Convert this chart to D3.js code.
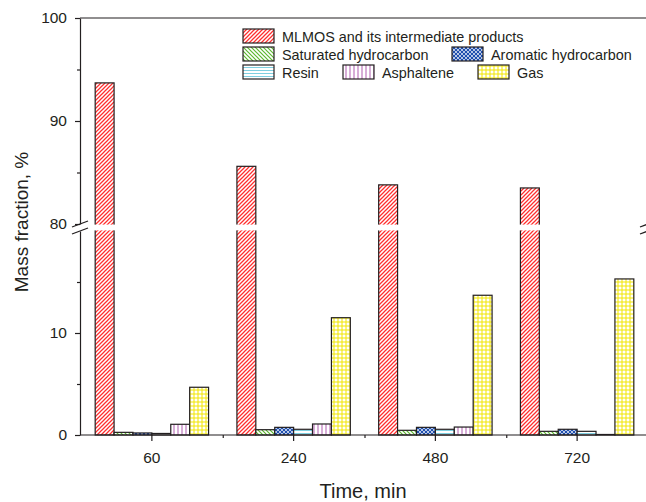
<!DOCTYPE html>
<html><head><meta charset="utf-8">
<script src="https://cdn.jsdelivr.net/npm/d3@7"></script>
<style>
html,body{margin:0;padding:0;background:#fff;}
svg{display:block;font-family:"Liberation Sans",Arial,sans-serif;}
</style></head>
<body>
<svg id="chart" width="646" height="502"></svg>
<script>
const categories = ["60","240","480","720"];
const seriesNames = ["MLMOS and its intermediate products","Saturated hydrocarbon","Aromatic hydrocarbon","Resin","Asphaltene","Gas"];
const mlmos     = [93.7, 85.6, 83.8, 83.5];
const saturated = [0.26, 0.52, 0.46, 0.36];
const aromatic  = [0.20, 0.75, 0.75, 0.56];
const resin     = [0.15, 0.56, 0.56, 0.36];
const asphaltene= [1.05, 1.08, 0.78, 0.05];
const gas       = [4.68, 11.5, 13.7, 15.3];
const lowerTicks = [0, 10];
const lowerMinor = [5, 15];
const upperTicks = [80, 90, 100];
const upperMinor = [85, 95];
const xTitle = "Time, min";
const yTitle = "Mass fraction, %";

const seriesValues = [mlmos, saturated, aromatic, resin, asphaltene, gas];
const patIds = ["pRed","pGreen","pBlue","pCyan","pPurple","pYellow"];
const ink = "#231f20";

const svg = d3.select("#chart");
const defs = svg.append("defs");

function pat(id, size){
  const p = defs.append("pattern").attr("id", id).attr("patternUnits","userSpaceOnUse")
    .attr("width", size).attr("height", size);
  p.append("rect").attr("width", size).attr("height", size).attr("fill","#fff");
  return p;
}
// red diagonal ////
let p = pat("pRed", 4);
p.append("path").attr("d","M-1,1 L1,-1 M0,4 L4,0 M3,5 L5,3").attr("stroke","#ff2e2e").attr("stroke-width",1.25);
// green diagonal \\\\
p = pat("pGreen", 4);
p.append("path").attr("d","M-1,3 L1,5 M0,0 L4,4 M3,-1 L5,1").attr("stroke","#5cb82e").attr("stroke-width",1.2);
// blue crosshatch
p = pat("pBlue", 4);
p.select("rect").attr("fill","#1f4fae");
p.append("circle").attr("cx",2).attr("cy",2).attr("r",0.9).attr("fill","#fff");
p.append("circle").attr("cx",0).attr("cy",0).attr("r",0.9).attr("fill","#fff");
p.append("circle").attr("cx",4).attr("cy",0).attr("r",0.9).attr("fill","#fff");
p.append("circle").attr("cx",0).attr("cy",4).attr("r",0.9).attr("fill","#fff");
p.append("circle").attr("cx",4).attr("cy",4).attr("r",0.9).attr("fill","#fff");
// cyan horizontal
p = pat("pCyan", 3);
p.append("path").attr("d","M0,1.5 L3,1.5").attr("stroke","#7fcfe0").attr("stroke-width",1);
// purple vertical
p = pat("pPurple", 4);
p.append("path").attr("d","M2,0 L2,4").attr("stroke","#b76ab7").attr("stroke-width",1.1);
// yellow grid
p = pat("pYellow", 4);
p.append("path").attr("d","M0,2 L4,2 M2,0 L2,4").attr("stroke","#f2e600").attr("stroke-width",1);

// scales
const x0 = d3.scaleBand().domain(categories).range([81, 648]).paddingInner(0.2).paddingOuter(0.1);
const x1 = d3.scaleBand().domain(d3.range(6)).range([0, x0.bandwidth()]);
const yLow = d3.scaleLinear().domain([0, 20]).range([435, 231]);
const yUp = d3.scaleLinear().domain([80, 100]).range([224, 18]);

function yPos(v){ return v <= 20 ? yLow(v) : (v >= 80 ? yUp(v) : yUp(80)); }

// bars
const g = svg.append("g");
categories.forEach((c, ci) => {
  seriesValues.forEach((vals, si) => {
    const v = vals[ci];
    const top = yPos(v);
    g.append("rect")
      .attr("x", x0(c) + x1(si))
      .attr("y", top)
      .attr("width", x1.bandwidth())
      .attr("height", yLow(0) - top)
      .attr("fill", `url(#${patIds[si]})`)
      .attr("stroke", ink).attr("stroke-width", 1.2);
  });
});
// break gap
svg.append("rect").attr("x", 75).attr("y", yUp(80) + 0.6).attr("width", 580)
  .attr("height", yLow(20) - yUp(80) - 1.2).attr("fill", "#fff");

// axes
const axG = svg.append("g");
function styleAxis(sel){
  sel.selectAll("path,line").attr("stroke", ink).attr("stroke-width", 1.2);
  sel.selectAll("text").attr("fill", ink).attr("font-size", 15.5).attr("font-family",'"Liberation Sans",Arial,sans-serif');
}
const aUp = axG.append("g").attr("transform","translate(80,0)")
  .call(d3.axisLeft(yUp).tickValues(upperTicks).tickSize(5).tickSizeOuter(0).tickPadding(8));
styleAxis(aUp);
const aUpM = axG.append("g").attr("transform","translate(80,0)")
  .call(d3.axisLeft(yUp).tickValues(upperMinor).tickSize(3).tickFormat(""));
aUpM.select(".domain").remove(); styleAxis(aUpM);
const aLo = axG.append("g").attr("transform","translate(80,0)")
  .call(d3.axisLeft(yLow).tickValues(lowerTicks).tickSize(5).tickSizeOuter(0).tickPadding(8));
styleAxis(aLo);
const aLoM = axG.append("g").attr("transform","translate(80,0)")
  .call(d3.axisLeft(yLow).tickValues(lowerMinor).tickSize(3).tickFormat(""));
aLoM.select(".domain").remove(); styleAxis(aLoM);

// right axis (partly off-canvas)
axG.append("line").attr("x1",648).attr("x2",648).attr("y1",yUp(100)).attr("y2",yUp(80)).attr("stroke",ink).attr("stroke-width",1.2);
axG.append("line").attr("x1",648).attr("x2",648).attr("y1",yLow(20)).attr("y2",yLow(0)).attr("stroke",ink).attr("stroke-width",1.2);
// top line
axG.append("line").attr("x1",80).attr("x2",648).attr("y1",yUp(100)).attr("y2",yUp(100)).attr("stroke",ink).attr("stroke-width",1.2);

// x axis
const ax = axG.append("g").attr("transform","translate(0,435)")
  .call(d3.axisBottom(x0).tickSize(6).tickSizeOuter(0).tickPadding(11));
styleAxis(ax);
ax.select(".domain").attr("d", "M80,0H648");
const bounds = d3.range(1, categories.length).map(i => x0.range()[0] + i * x0.step());
const axM = axG.append("g").attr("transform","translate(0,435)")
  .call(d3.axisBottom(d3.scaleIdentity()).tickValues(bounds).tickSize(3).tickFormat(""));
axM.select(".domain").remove(); styleAxis(axM);

// break marks
[80, 648].forEach(xx => {
  const mid = (yUp(80) + yLow(20)) / 2;
  [-3.5, 3.5].forEach(off => {
    axG.append("line").attr("x1", xx - 8).attr("y1", mid + off + 3)
      .attr("x2", xx + 8).attr("y2", mid + off - 3)
      .attr("stroke", ink).attr("stroke-width", 1.3);
  });
});

// titles
svg.append("text").attr("x", 363).attr("y", 498).attr("text-anchor","middle")
  .attr("font-size", 20).attr("fill", ink).text(xTitle);
svg.append("text").attr("transform","translate(28,222) rotate(-90)").attr("text-anchor","middle")
  .attr("font-size", 19).attr("fill", ink).text(yTitle);

// legend
const legendItems = [
  {i:0, x:243, y:29},
  {i:1, x:243, y:47},
  {i:2, x:452, y:47},
  {i:3, x:243, y:65},
  {i:4, x:343, y:65},
  {i:5, x:478, y:65}
];
const lg = svg.append("g");
legendItems.forEach(d => {
  lg.append("rect").attr("x", d.x).attr("y", d.y).attr("width", 31).attr("height", 14)
    .attr("fill", `url(#${patIds[d.i]})`).attr("stroke", ink).attr("stroke-width", 1.2);
  lg.append("text").attr("x", d.x + 39).attr("y", d.y + 12.5).attr("font-size", 14.4)
    .attr("fill", ink).text(seriesNames[d.i]);
});
</script>
</body></html>
